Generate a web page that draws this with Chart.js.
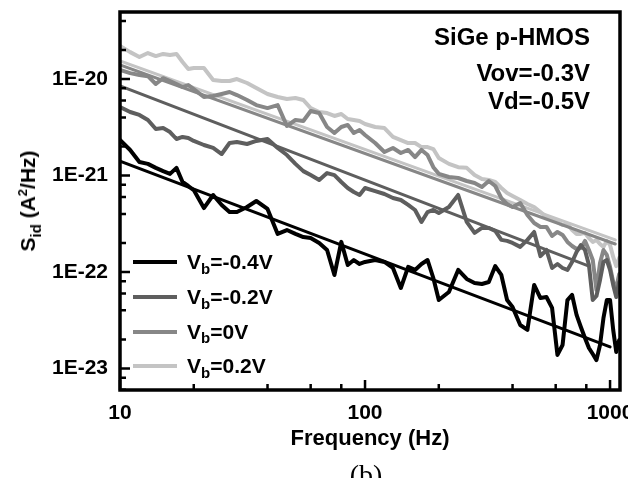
<!DOCTYPE html>
<html lang="en">
<head>
    <meta charset="UTF-8">
    <title>SiGe p-HMOS noise spectra</title>
    <script src="https://cdn.jsdelivr.net/npm/chart.js"></script>
    <style>
        body, html {
            margin: 0;
            padding: 0;
            width: 628px;
            height: 478px;
            overflow: hidden;
            background: #fff;
            font-family: "Liberation Sans", Arial, sans-serif;
        }
        #wrap { position: relative; width: 628px; height: 478px; }
        canvas { position: absolute; left: 0; top: 0; }
        .txt { position: absolute; font-weight: bold; color: #000; white-space: nowrap; }
        .note { right: 38px; font-size: 24px; line-height: 24px; }
        #ytitle { left: 28px; top: 201px; font-size: 21px; transform: translate(-50%, -50%) rotate(-90deg); }
        .sub { position: relative; top: 6px; font-size: 15px; }
        .sup { position: relative; top: -8px; font-size: 13px; }
        #legend { position: absolute; left: 133px; top: 245px; }
        .row { display: flex; align-items: center; height: 34.7px; font-weight: bold; font-size: 21px; }
        .swatch { display: inline-block; width: 44px; height: 4px; margin-right: 10px; }
        #panel { position: absolute; left: 366px; top: 461px; transform: translateX(-50%);
                 font-family: "Liberation Serif", "Times New Roman", serif; font-size: 28px; line-height: 28px; }
    </style>
</head>
<body>
<div id="wrap">
    <canvas id="noiseChart" width="628" height="478"></canvas>
    <div class="txt note" style="top:25px">SiGe p-HMOS</div>
    <div class="txt note" style="top:61px">Vov=-0.3V</div>
    <div class="txt note" style="top:89px">Vd=-0.5V</div>
    <div class="txt" id="ytitle">S<span class="sub">id</span> (A<span class="sup">2</span>/Hz)</div>
    <div id="legend"></div>
    <div id="panel">(b)</div>
</div>

<script>
    // frequency grid shared by the measured spectra (Hz)
    const freq = [10, 11, 12, 13, 14, 15, 16, 17, 18, 19, 20, 22, 24, 26, 28, 30, 33, 36, 40, 44, 48, 52, 56,
        60, 65, 70, 75, 80, 85, 90, 95, 100, 110, 120, 130, 140, 150, 160, 170, 180, 190, 200, 220, 240, 260,
        280, 300, 320, 340, 360, 380, 400, 430, 460, 490, 520, 550, 580, 610, 640, 670, 700, 730, 760, 790,
        820, 850, 880, 910, 940, 970, 1000, 1030, 1060, 1090];

    // Sid (A^2/Hz)
    const sVbM04 = [2.33e-21, 1.84e-21, 1.38e-21, 1.32e-21, 1.20e-21, 1.11e-21, 1.04e-21, 1.20e-21, 8.56e-22, 7.78e-22,
        7.07e-22, 4.60e-22, 6.28e-22, 4.95e-22, 4.18e-22, 4.18e-22, 4.71e-22, 5.44e-22, 4.50e-22, 2.48e-22,
        2.72e-22, 2.48e-22, 2.30e-22, 2.25e-22, 2.00e-22, 1.69e-22, 9.31e-23, 2.05e-22, 1.18e-22, 1.33e-22,
        1.21e-22, 1.27e-22, 1.33e-22, 1.27e-22, 1.10e-22, 6.82e-23, 1.13e-22, 1.05e-22, 1.21e-22, 1.33e-22,
        8.66e-23, 5.12e-23, 6.20e-23, 1.05e-22, 8.46e-23, 7.69e-23, 7.50e-23, 7.87e-23, 1.15e-22, 9.31e-23,
        5.12e-23, 4.34e-23, 2.82e-23, 2.51e-23, 7.34e-23, 5.37e-23, 5.50e-23, 4.24e-23, 1.38e-23, 1.75e-23,
        5.12e-23, 5.78e-23, 3.59e-23, 2.69e-23, 2.07e-23, 1.63e-23, 1.41e-23, 1.22e-23, 1.75e-23, 3.34e-23,
        5.12e-23, 5.12e-23, 2.51e-23, 1.48e-23, 1.97e-23];
    const sVbM02 = [5.12e-21, 4.55e-21, 4.24e-21, 3.76e-21, 3.03e-21, 3.10e-21, 2.82e-21, 2.39e-21, 2.51e-21, 2.45e-21,
        2.28e-21, 2.07e-21, 1.93e-21, 1.67e-21, 2.17e-21, 2.22e-21, 2.12e-21, 2.28e-21, 2.39e-21, 1.93e-21,
        1.63e-21, 1.32e-21, 1.11e-21, 1.01e-21, 8.98e-22, 1.06e-21, 1.01e-21, 8.56e-22, 7.42e-22, 6.74e-22,
        6.28e-22, 7.42e-22, 6.90e-22, 6.43e-22, 5.84e-22, 5.57e-22, 4.95e-22, 4.39e-22, 3.30e-22, 4.18e-22,
        4.39e-22, 4.09e-22, 4.71e-22, 6.28e-22, 3.30e-22, 2.54e-22, 2.86e-22, 2.86e-22, 2.66e-22, 2.15e-22,
        2.10e-22, 2.00e-22, 1.82e-22, 2.15e-22, 2.60e-22, 1.46e-22, 1.69e-22, 1.10e-22, 1.21e-22, 1.10e-22,
        1.05e-22, 1.27e-22, 1.61e-22, 1.90e-22, 1.69e-22, 1.18e-22, 5.12e-23, 5.64e-23, 8.26e-23, 1.27e-22,
        1.33e-22, 1.05e-22, 7.34e-23, 5.50e-23, 7.87e-23];
    const sVb0 = [1.24e-20, 1.15e-20, 1.10e-20, 1.07e-20, 8.88e-21, 1.02e-20, 9.53e-21, 8.88e-21, 8.26e-21, 8.66e-21,
        7.87e-21, 6.51e-21, 6.66e-21, 6.99e-21, 7.34e-21, 6.82e-21, 6.06e-21, 5.37e-21, 5.00e-21, 5.37e-21,
        3.26e-21, 3.76e-21, 3.67e-21, 4.66e-21, 4.44e-21, 3.18e-21, 2.76e-21, 3.18e-21, 3.34e-21, 2.76e-21,
        2.96e-21, 2.63e-21, 2.17e-21, 1.75e-21, 1.93e-21, 1.71e-21, 1.84e-21, 1.55e-21, 1.84e-21, 1.63e-21,
        1.22e-21, 1.04e-21, 9.64e-22, 9.42e-22, 8.77e-22, 8.36e-22, 7.60e-22, 8.77e-22, 7.78e-22, 5.84e-22,
        5.06e-22, 4.71e-22, 5.18e-22, 3.90e-22, 3.22e-22, 2.93e-22, 2.93e-22, 2.36e-22, 2.60e-22, 2.42e-22,
        2.05e-22, 1.86e-22, 1.73e-22, 1.77e-22, 2.10e-22, 1.69e-22, 1.33e-22, 6.51e-23, 1.24e-22, 1.69e-22,
        1.50e-22, 1.13e-22, 7.87e-23, 6.82e-23, 9.53e-23];
    const sVbP02 = [2.20e-20, 1.90e-20, 1.69e-20, 1.86e-20, 1.73e-20, 1.82e-20, 1.77e-20, 1.82e-20, 1.50e-20, 1.27e-20,
        1.30e-20, 1.30e-20, 9.76e-21, 9.53e-21, 9.53e-21, 1.00e-20, 9.09e-21, 8.06e-21, 6.99e-21, 6.51e-21,
        6.20e-21, 6.35e-21, 6.06e-21, 5.00e-21, 4.55e-21, 4.44e-21, 4.14e-21, 4.34e-21, 3.85e-21, 3.76e-21,
        3.67e-21, 3.42e-21, 3.18e-21, 3.10e-21, 2.51e-21, 2.33e-21, 2.17e-21, 2.17e-21, 1.97e-21, 1.97e-21,
        1.88e-21, 1.52e-21, 1.32e-21, 1.22e-21, 1.20e-21, 1.01e-21, 9.20e-22, 8.98e-22, 8.56e-22, 7.42e-22,
        6.58e-22, 6.13e-22, 5.57e-22, 5.06e-22, 4.71e-22, 4.18e-22, 3.72e-22, 3.46e-22, 3.30e-22, 3.07e-22,
        3.14e-22, 2.72e-22, 2.48e-22, 2.48e-22, 2.54e-22, 2.25e-22, 2.05e-22, 2.15e-22, 1.95e-22, 1.82e-22,
        2.10e-22, 1.90e-22, 1.43e-22, 1.15e-22, 1.40e-22];

    // 1/f fit lines: end points
    const fitFreqM04 = [10, 1000],  fitM04 = [1.41e-21, 1.67e-23];
    const fitFreqM02 = [10, 820],   fitM02 = [8.5e-21, 1.15e-22];
    const fitFreq0   = [10, 1050],  fit0   = [1.40e-20, 1.95e-22];
    const fitFreqP02 = [10, 1050],  fitP02 = [1.54e-20, 2.15e-22];

    const vbLabels = ['=-0.4V', '=-0.2V', '=0V', '=0.2V'];
    const colors = ['#000000', '#5e5e5e', '#878787', '#c4c4c4'];

    // axis ticks
    const xMajor = [10, 100, 1000];
    const yMajor = [1e-23, 1e-22, 1e-21, 1e-20];
    const minorSteps = [2, 4, 6, 8];
    const xMin = 10, xMax = 1098;
    const yMin = 5.98e-24, yMax = 4.95e-20;

    const pts = (xs, ys) => xs.map((x, i) => ({ x: x, y: ys[i] }));
    const measured = [sVbM04, sVbM02, sVb0, sVbP02];
    const fits = [[fitFreqM04, fitM04], [fitFreqM02, fitM02], [fitFreq0, fit0], [fitFreqP02, fitP02]];

    const datasets = [];
    measured.forEach((vals, i) => {
        datasets.push({ data: pts(freq, vals), borderColor: colors[i], borderWidth: 4 });
        datasets.push({ data: pts(fits[i][0], fits[i][1]), borderColor: colors[i], borderWidth: 3 });
    });

    const legendBox = document.getElementById('legend');
    vbLabels.forEach((lab, i) => {
        const row = document.createElement('div');
        row.className = 'row';
        row.innerHTML = '<span class="swatch" style="background:' + colors[i] + '"></span>V<span class="sub">b</span>' + lab;
        legendBox.appendChild(row);
    });

    const minorOf = (majors, lo, hi) => {
        const out = [];
        [majors[0] / 10].concat(majors).forEach(m => minorSteps.forEach(s => {
            const v = m * s;
            if (v > lo && v < hi) out.push(v);
        }));
        return out;
    };

    // frame and inward ticks
    const frameTicks = {
        id: 'frameTicks',
        afterDraw(chart) {
            const { ctx, chartArea: a, scales: { x, y } } = chart;
            ctx.save();
            ctx.strokeStyle = '#000';
            ctx.lineWidth = 2.5;
            ctx.beginPath();
            xMajor.forEach(v => { const p = x.getPixelForValue(v); ctx.moveTo(p, a.bottom); ctx.lineTo(p, a.bottom - 10); });
            minorOf(xMajor, xMin, xMax).forEach(v => { const p = x.getPixelForValue(v); ctx.moveTo(p, a.bottom); ctx.lineTo(p, a.bottom - 6); });
            yMajor.forEach(v => { const p = y.getPixelForValue(v); ctx.moveTo(a.left, p); ctx.lineTo(a.left + 10, p); });
            minorOf(yMajor, yMin, yMax).forEach(v => { const p = y.getPixelForValue(v); ctx.moveTo(a.left, p); ctx.lineTo(a.left + 6, p); });
            ctx.stroke();
            ctx.lineWidth = 3.5;
            ctx.strokeRect(a.left, a.top, a.right - a.left, a.bottom - a.top);
            ctx.restore();
        }
    };

    const noPad = s => { s.paddingLeft = 0; s.paddingRight = 0; s.paddingTop = 0; s.paddingBottom = 0; };
    const tickFont = { family: '"Liberation Sans", Arial, sans-serif', size: 21, weight: 'bold' };

    new Chart(document.getElementById('noiseChart'), {
        type: 'line',
        data: { datasets: datasets },
        plugins: [frameTicks],
        options: {
            responsive: false,
            animation: false,
            layout: { padding: { top: 12, right: 8, left: 0, bottom: 0 } },
            elements: {
                point: { radius: 0 },
                line: { tension: 0, borderJoinStyle: 'round', borderCapStyle: 'round', fill: false }
            },
            plugins: { legend: { display: false }, tooltip: { enabled: false } },
            scales: {
                x: {
                    type: 'logarithmic',
                    min: xMin,
                    max: xMax,
                    grid: { display: false, drawTicks: false },
                    border: { display: false },
                    afterBuildTicks: s => { s.ticks = xMajor.map(v => ({ value: v })); },
                    afterFit: s => { s.height = 88; noPad(s); },
                    ticks: {
                        color: '#000', font: tickFont, padding: 11, maxRotation: 0, minRotation: 0, autoSkip: false,
                        callback: v => String(v)
                    },
                    title: {
                        display: true, text: 'Frequency (Hz)', color: '#000',
                        font: { family: '"Liberation Sans", Arial, sans-serif', size: 22, weight: 'bold' },
                        padding: { top: 0, bottom: 26 }
                    }
                },
                y: {
                    type: 'logarithmic',
                    min: yMin,
                    max: yMax,
                    grid: { display: false, drawTicks: false },
                    border: { display: false },
                    afterBuildTicks: s => { s.ticks = yMajor.map(v => ({ value: v })); },
                    afterFit: s => { s.width = 120; noPad(s); },
                    ticks: {
                        color: '#000', font: tickFont, padding: 12, autoSkip: false,
                        callback: v => '1E' + Math.round(Math.log10(v))
                    }
                }
            }
        }
    });
</script>
</body>
</html>
